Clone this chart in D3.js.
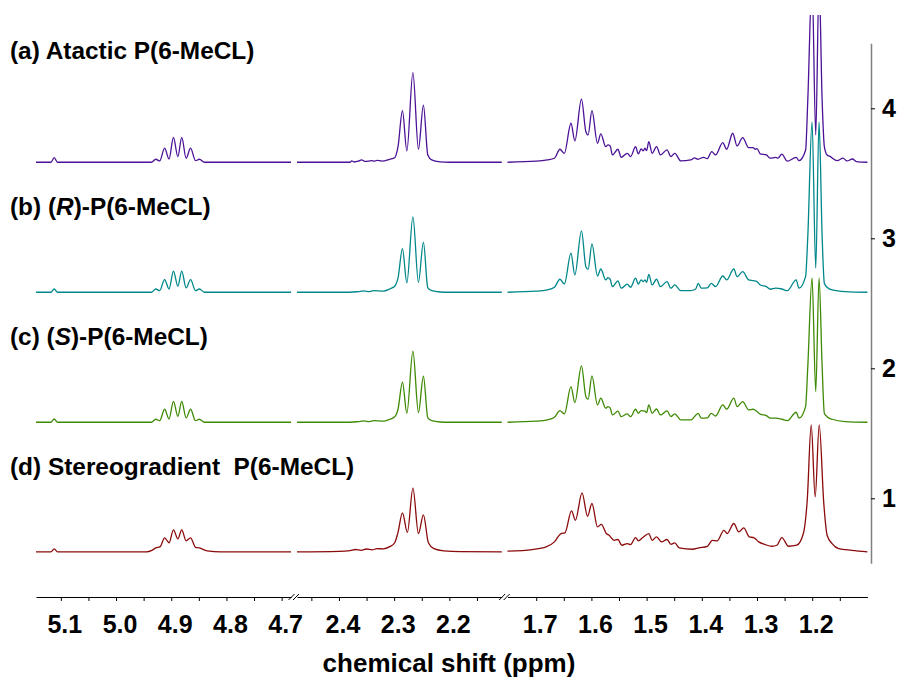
<!doctype html>
<html lang="en">
<head>
<meta charset="utf-8">
<title>1H NMR P(6-MeCL)</title>
<script src="https://d3js.org/d3.v7.min.js"></script>
<style>
  body { margin: 0; background: #fff; }
  text { font-family: 'Liberation Sans', Arial, sans-serif; font-weight: bold; fill: #000; }
  .spec path { fill: none; stroke-width: 1.3px; }
</style>
</head>
<body>
<div id="chart"></div>
<script>
let width = 898
let height = 679

// broken ppm axis, pieces from left to right
let segments = [[5.145, 4.683], [2.476, 2.105], [1.752, 1.100]]
let majorTicks = [[5.1, 5.0, 4.9, 4.8, 4.7], [2.4, 2.3, 2.2], [1.7, 1.6, 1.5, 1.4, 1.3, 1.2]]
let minorTicks = [[5.05, 4.95, 4.85, 4.75], [2.45, 2.35, 2.25, 2.15], [1.65, 1.55, 1.45, 1.35, 1.25, 1.15]]
let yTicks = [1, 2, 3, 4]

let labels = ['(a) Atactic P(6-MeCL)', '(b) (R)-P(6-MeCL)', '(c) (S)-P(6-MeCL)', '(d) Stereogradient  P(6-MeCL)']
let offsets = [3.585, 2.585, 1.585, 0.588]
let colors = ['#4b1196', '#00878a', '#3f8a05', '#8b0a0a']

// [ppm, intensity in 1/100 of a y unit], peaks and valleys
let specA = [
  [5.145,0],[5.118,0],[5.112,3.5],[5.106,0],[4.936,0],[4.928,2.3],[4.921,1],[4.912,10.8],[4.904,2.5],[4.896,19.2],
  [4.888,4.3],[4.881,19.2],[4.873,3.1],[4.865,10.8],[4.856,1.2],[4.849,2.3],[4.840,0],[4.683,0],
  [2.476,0],[2.380,0],[2.377,1],[2.372,0.2],[2.365,0.8],[2.359,1.8],[2.352,0.6],[2.341,1.2],[2.336,0.8],[2.331,1.5],
  [2.322,0.9],[2.308,2.3],[2.299,3.5],[2.293,12],[2.285,39.7],[2.277,8.7],[2.266,69],[2.256,10],[2.247,44],[2.239,5.6],
  [2.232,1.8],[2.217,0.3],[2.200,0],[2.105,0],
  [1.752,0],[1.700,0.8],[1.680,1.8],[1.667,3.1],[1.657,10],[1.649,6.9],[1.637,30],[1.630,16.4],[1.618,48.5],[1.610,23.5],
  [1.606,21],[1.599,39.7],[1.589,14.6],[1.583,21.8],[1.574,12],[1.570,13.3],[1.566,12.5],[1.562,5.6],[1.552,10],[1.546,3.8],
  [1.535,6.9],[1.529,4.3],[1.520,12],[1.515,6.4],[1.510,10.2],[1.506,8.7],[1.503,10.8],[1.500,8.9],[1.496,15.8],[1.490,6.9],
  [1.482,12],[1.475,5.6],[1.463,9.5],[1.456,4.3],[1.449,6.9],[1.438,1],[1.420,1.8],[1.413,3.3],[1.407,2.3],[1.397,3.8],
  [1.390,2.8],[1.382,8.2],[1.375,5.6],[1.362,15.1],[1.355,10],[1.344,22.3],[1.336,12.5],[1.326,18.9],[1.315,11.2],[1.307,11.2],
  [1.303,10],[1.300,10.5],[1.294,6.4],[1.283,5.6],[1.276,3.1],[1.266,3.8],[1.262,3.1],[1.255,6.2],[1.245,0.8],[1.229,3.8],
  [1.224,1.2],[1.212,9.2],[1.208,47.7],[1.2003,140],[1.1936,21],[1.1876,140],[1.182,47.7],[1.178,12],[1.173,5.6],[1.167,4.3],
  [1.155,1.2],[1.144,3.1],[1.137,1],[1.127,2.5],[1.120,0.5],[1.100,0]
]
let specB = [
  [5.145,0],[5.118,0],[5.112,2.5],[5.106,0],[4.936,0],[4.928,2.5],[4.921,1.2],[4.912,9.7],[4.904,2.5],[4.896,16.2],
  [4.888,4.6],[4.881,16.2],[4.873,3.3],[4.865,9.7],[4.856,1.2],[4.849,2.5],[4.840,0],[4.683,0],
  [2.476,0],[2.380,0],[2.365,0.5],[2.355,1],[2.345,0.5],[2.337,1.2],[2.320,0.8],[2.308,2.5],[2.299,4.6],[2.293,11],
  [2.285,33.5],[2.277,7.2],[2.266,58],[2.256,7.7],[2.247,38.5],[2.239,3.3],[2.232,1.2],[2.217,0.2],[2.200,0],[2.105,0],
  [1.752,0],[1.700,0.8],[1.680,1.8],[1.667,3.8],[1.657,10],[1.649,6.4],[1.637,30],[1.630,13.3],[1.618,47.2],[1.610,19.7],
  [1.606,17.7],[1.599,37.2],[1.589,12.5],[1.583,17.9],[1.574,9.5],[1.570,11.2],[1.566,10],[1.562,4.3],[1.552,8.7],[1.546,3.1],
  [1.535,6.2],[1.529,3.8],[1.520,10.8],[1.515,6.2],[1.510,9.5],[1.506,8.2],[1.503,9.5],[1.500,7.7],[1.496,13.8],[1.490,5.6],
  [1.482,10],[1.475,4.3],[1.463,8.2],[1.456,3.1],[1.449,5.6],[1.438,1.2],[1.420,1.2],[1.411,2.5],[1.4065,6.9],[1.401,3.1],
  [1.390,3.3],[1.383,6.9],[1.375,4.3],[1.362,12.5],[1.355,9.5],[1.342,17.9],[1.336,12],[1.326,15.8],[1.315,9.5],[1.307,8.9],
  [1.300,8.2],[1.294,5.6],[1.283,4.3],[1.276,2.3],[1.266,3.1],[1.255,2.5],[1.245,1.2],[1.229,9.5],[1.224,3.1],[1.212,12],
  [1.208,42.8],[1.2003,131],[1.1936,18.5],[1.1876,131],[1.182,42.8],[1.178,6.9],[1.173,3.8],[1.164,1.8],[1.140,0.5],[1.100,0]
]
let specC = [
  [5.145,0],[5.118,0],[5.112,2.5],[5.106,0],[4.936,0],[4.928,2.3],[4.921,1.2],[4.912,10],[4.904,2.5],[4.896,16],
  [4.888,4.6],[4.881,16],[4.873,3.3],[4.865,10],[4.856,1.2],[4.849,2.3],[4.840,0],[4.683,0],
  [2.476,0],[2.380,0],[2.365,0.5],[2.355,1],[2.345,0.5],[2.337,1.2],[2.320,0.8],[2.308,2.3],[2.299,4.2],[2.293,10],
  [2.285,30.8],[2.277,7],[2.266,54.6],[2.256,7.5],[2.247,35.4],[2.239,3.3],[2.232,1.2],[2.217,0.2],[2.200,0],[2.105,0],
  [1.752,0],[1.700,0.8],[1.680,1.8],[1.667,3.8],[1.657,8.9],[1.649,6.4],[1.637,27.4],[1.630,15.1],[1.618,43.3],[1.610,19.7],
  [1.606,17.7],[1.599,35.6],[1.589,13.3],[1.583,18.5],[1.574,10.8],[1.570,12],[1.566,11],[1.562,5.6],[1.552,8.5],[1.546,4.3],
  [1.535,6.4],[1.529,4.3],[1.520,10],[1.515,6.9],[1.510,8.9],[1.503,8.5],[1.500,7.4],[1.496,13.3],[1.490,6.9],[1.482,10.2],
  [1.475,5.6],[1.463,8.7],[1.456,4.3],[1.449,6.4],[1.438,1.8],[1.420,1.8],[1.4065,6.9],[1.401,3.1],[1.390,3.3],[1.383,6.9],
  [1.375,4.8],[1.362,13.3],[1.355,10],[1.342,18.5],[1.336,12],[1.326,15.8],[1.315,9.5],[1.307,10],[1.300,8.2],[1.294,6.2],
  [1.283,5.1],[1.276,3.1],[1.266,3.1],[1.255,2.3],[1.245,1.2],[1.229,7.7],[1.224,3.1],[1.212,12],[1.208,42.8],[1.2003,111],
  [1.1936,23.5],[1.1876,111],[1.182,42.8],[1.178,6.9],[1.173,4.3],[1.164,2.3],[1.140,0.5],[1.100,0]
]
let specD = [
  [5.145,0],[5.118,0],[5.112,2.3],[5.106,0],[4.945,0],[4.935,1.2],[4.928,3],[4.920,4],[4.912,10.8],[4.904,7],[4.896,16.9],
  [4.888,10],[4.881,16.9],[4.873,8.5],[4.865,10.8],[4.856,3.5],[4.849,3],[4.835,0.8],[4.810,0],[4.683,0],
  [2.476,0],[2.400,0.4],[2.380,1],[2.370,1.8],[2.360,1.2],[2.350,2.2],[2.340,1.5],[2.331,2.5],[2.320,2.3],[2.308,4],
  [2.299,7],[2.293,15],[2.285,30],[2.276,15],[2.266,49],[2.256,14],[2.247,28.5],[2.238,7],[2.228,2.5],[2.210,0.8],
  [2.180,0.2],[2.105,0],
  [1.752,0.5],[1.707,1.8],[1.682,3.8],[1.667,7.7],[1.655,14.1],[1.648,14.6],[1.636,31.5],[1.629,24.3],[1.617,45.4],[1.607,27.4],
  [1.599,37.2],[1.589,19.2],[1.582,21.2],[1.573,14.1],[1.568,12.8],[1.559,8.9],[1.552,9.5],[1.545,5.1],[1.535,6.4],[1.529,5.6],
  [1.520,11],[1.515,8.5],[1.507,11],[1.496,14.1],[1.490,8.9],[1.482,11.5],[1.473,7.7],[1.463,9.5],[1.456,5.8],[1.449,6.9],
  [1.441,3.1],[1.417,2],[1.405,3.1],[1.390,4.3],[1.381,8.9],[1.372,8.5],[1.360,16.6],[1.354,14.1],[1.342,21.8],[1.333,15.4],
  [1.324,18.5],[1.314,11.5],[1.306,11],[1.297,7.7],[1.285,5.6],[1.273,4.3],[1.264,5.1],[1.255,11],[1.243,4.3],[1.228,5.1],
  [1.216,14.1],[1.209,39.7],[1.2018,97.7],[1.1946,42.3],[1.1873,97.7],[1.179,37.2],[1.173,12.8],[1.164,6.4],[1.152,2.5],
  [1.128,1.2],[1.100,0]
]
let spectra = [specA, specB, specC, specD]

let pxPerPpm = 552
let segLeft = [36, 297, 507.5]
let xAxisY = 597

let xs = segments.map((d, i) => d3.scaleLinear()
  .domain(d)
  .range([segLeft[i], segLeft[i] + (d[0] - d[1]) * pxPerPpm]))

let y = d3.scaleLinear().domain([0.5, 4.5]).range([563.3, 43.3])

let svg = d3.select('#chart').append('svg')
  .attr('width', width)
  .attr('height', height)

svg.append('clipPath').attr('id', 'clip')
  .append('rect').attr('x', 0).attr('y', 15).attr('width', width).attr('height', height - 15)

// spectra
let specG = svg.append('g').attr('class', 'spec').attr('clip-path', 'url(#clip)')
spectra.forEach((spec, k) => {
  segments.forEach((seg, i) => {
    let pts = spec.filter(p => p[0] <= seg[0] + 1e-9 && p[0] >= seg[1] - 1e-9)
    let line = d3.line()
      .x(p => xs[i](p[0]))
      .y(p => y(offsets[k] + p[1] / 100))
      .curve(d3.curveMonotoneX)
    specG.append('path')
      .attr('d', line(pts))
      .attr('stroke', colors[k])
  })
})

// x axis pieces
segments.forEach((seg, i) => {
  let ax = d3.axisBottom(xs[i])
    .tickValues(majorTicks[i].concat(minorTicks[i]))
    .tickSize(4)
    .tickSizeOuter(0)
    .tickPadding(14)
    .tickFormat(d => majorTicks[i].includes(d) ? d3.format('.1f')(d) : '')
  let g = svg.append('g').attr('transform', `translate(0,${xAxisY})`).call(ax)
  g.selectAll('text').attr('font-size', 25).attr('dx', 3.5)
    .style('font-family', "'Liberation Sans', Arial, sans-serif")
  g.select('.domain').attr('stroke', '#000')
})

// break marks
let breaks = [(xs[0].range()[1] + xs[1].range()[0]) / 2, (xs[1].range()[1] + xs[2].range()[0]) / 2]
breaks.forEach(bx => {
  [-2.5, 2].forEach(o => {
    svg.append('line')
      .attr('x1', bx + o - 3).attr('y1', xAxisY + 3)
      .attr('x2', bx + o + 3).attr('y2', xAxisY - 3)
      .attr('stroke', '#000').attr('stroke-width', 1)
  })
})

svg.append('text')
  .attr('x', 449).attr('y', 671.5)
  .attr('text-anchor', 'middle')
  .attr('font-size', 26)
  .text('chemical shift (ppm)')

// right y axis
let yAx = svg.append('g').attr('transform', 'translate(871,0)')
  .call(d3.axisRight(y).tickValues(yTicks).tickSize(4).tickSizeOuter(0).tickPadding(7).tickFormat(d3.format('d')))
yAx.select('.domain').attr('stroke', '#808080').attr('stroke-width', 1.5)
yAx.selectAll('text').attr('font-size', 25).style('font-family', "'Liberation Sans', Arial, sans-serif")

// sample labels
let labelY = [59, 215, 345, 475]
labels.forEach((lab, k) => {
  let t = svg.append('text')
    .attr('x', 10).attr('y', labelY[k])
    .attr('font-size', 24.4)
    .style('white-space', 'pre')
  let m = lab.match(/^(.*\()([RS])(\).*)$/)
  if (m) {
    t.append('tspan').text(m[1])
    t.append('tspan').attr('font-style', 'italic').text(m[2])
    t.append('tspan').text(m[3])
  } else {
    t.text(lab)
  }
})
</script>
</body>
</html>
